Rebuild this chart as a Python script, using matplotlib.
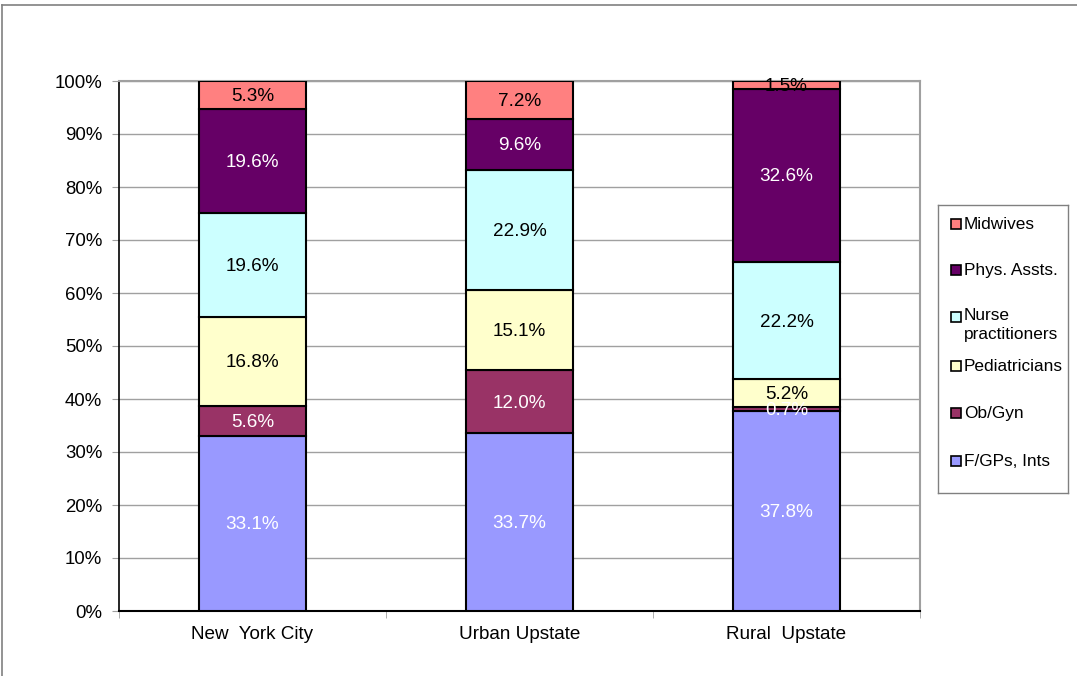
import matplotlib
matplotlib.use("Agg")
import matplotlib.pyplot as plt
from matplotlib.patches import Rectangle
from matplotlib.lines import Line2D
import numpy as np

plt.rcParams['font.family'] = ['Liberation Sans', 'DejaVu Sans']

categories = ["New  York City", "Urban Upstate", "Rural  Upstate"]
series_names = ["F/GPs, Ints", "Ob/Gyn", "Pediatricians", "Nurse practitioners", "Phys. Assts.", "Midwives"]
legend_labels = ["F/GPs, Ints", "Ob/Gyn", "Pediatricians", "Nurse\npractitioners", "Phys. Assts.", "Midwives"]
fgps = [33.1, 33.7, 37.8]
obgyn = [5.6, 12.0, 0.7]
pediatricians = [16.8, 15.1, 5.2]
nurse = [19.6, 22.9, 22.2]
physassts = [19.6, 9.6, 32.6]
midwives = [5.3, 7.2, 1.5]
y_ticks = [0, 10, 20, 30, 40, 50, 60, 70, 80, 90, 100]

series = [fgps, obgyn, pediatricians, nurse, physassts, midwives]
colors = ["#9999FF", "#993366", "#FFFFCC", "#CCFFFF", "#660066", "#FF8080"]
label_colors = ["white", "white", "black", "black", "white", "black"]

W, H = 1077, 676
fig = plt.figure(figsize=(W / 100, H / 100), dpi=100)
ax = fig.add_axes([119 / W, 1 - 611 / H, (920 - 119) / W, (611 - 81) / H])

data = np.array(series, dtype=float)
totals = data.sum(axis=0)
pct = data / totals * 100
x = np.arange(len(categories))
bottom = np.zeros(len(categories))
for i, name in enumerate(series_names):
    ax.bar(x, pct[i], 0.4, bottom=bottom, color=colors[i], edgecolor="black",
           linewidth=1.5, zorder=3)
    for j in range(len(categories)):
        ax.text(x[j], bottom[j] + pct[i][j] / 2 - 0.3, f"{data[i][j]:.1f}%",
                ha="center", va="center", color=label_colors[i], fontsize=13.6, zorder=4)
    bottom += pct[i]

ax.set_xlim(-0.5, len(categories) - 0.5)
ax.set_ylim(0, 100)
ax.set_yticks(y_ticks)
ax.set_yticklabels([f"{t}%" for t in y_ticks], fontsize=13.4)
ax.yaxis.grid(True, color="#A0A0A0", linewidth=1, zorder=0)
ax.set_xticks(x)
ax.set_xticklabels(categories, fontsize=13.6)
ax.set_xticks(np.arange(-0.5, len(categories), 1), minor=True)
ax.tick_params(axis="x", which="major", length=0, pad=11)
ax.tick_params(axis="x", which="minor", length=5, color="#A0A0A0", direction="out")
ax.tick_params(axis="y", length=5, color="#A0A0A0", direction="out", pad=7)
ax.spines["left"].set_color("black")
ax.spines["bottom"].set_color("black")
ax.spines["left"].set_linewidth(1.2)
ax.spines["bottom"].set_linewidth(1.5)
ax.spines["top"].set_color("#A0A0A0")
ax.spines["right"].set_color("#A0A0A0")
ax.spines["top"].set_linewidth(1.5)
ax.spines["right"].set_linewidth(1.5)

# legend box
lax = fig.add_axes([938 / W, 1 - 493 / H, 130 / W, 288 / H])
lax.set_xlim(938, 1068)
lax.set_ylim(493, 205)
lax.set_xticks([])
lax.set_yticks([])
for s in lax.spines.values():
    s.set_color("#808080")
    s.set_linewidth(1)
legend_y = [461, 413, 366, 317, 270, 224]
for i, lab in enumerate(legend_labels):
    yy = legend_y[i]
    lax.add_patch(Rectangle((951, yy - 5), 10, 10, facecolor=colors[i], edgecolor="black", linewidth=1.2))
    if "\n" in lab:
        lax.text(964, yy - 9, lab, ha="left", va="top", fontsize=12.4, linespacing=1.3)
    else:
        lax.text(964, yy, lab, ha="left", va="center", fontsize=12.4)

# outer border
fig.add_artist(Line2D([2.5 / W, 2.5 / W], [0, 1 - 4.5 / H], color="#808080", linewidth=1.2, transform=fig.transFigure))
fig.add_artist(Line2D([2.5 / W, 1], [1 - 4.5 / H, 1 - 4.5 / H], color="#808080", linewidth=1.2, transform=fig.transFigure))

fig.savefig("out.png", dpi=100, facecolor="white")
